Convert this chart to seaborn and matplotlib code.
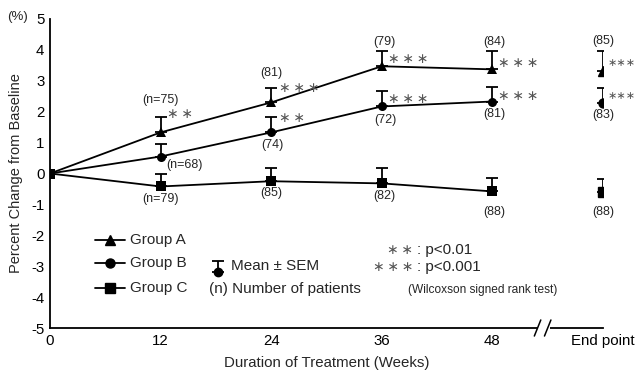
import numpy as np
import pandas as pd
import matplotlib
matplotlib.use("Agg")
import matplotlib.pyplot as plt
import matplotlib.transforms as mtransforms
import seaborn as sns

# ---------------- data ----------------
weeks = [0, 12, 24, 36, 48]
end_pos = 60
x_ticks = [0, 12, 24, 36, 48, 60]
x_ticklabels = ["0", "12", "24", "36", "48", "End point"]
y_ticks = [-5, -4, -3, -2, -1, 0, 1, 2, 3, 4, 5]
groups = ["Group A", "Group B", "Group C"]

a_mean = [0, 1.33, 2.30, 3.47, 3.37]
a_sem = [0, 0.50, 0.48, 0.50, 0.60]
a_end_mean, a_end_sem = 3.32, 0.63
b_mean = [0, 0.55, 1.33, 2.17, 2.33]
b_sem = [0, 0.42, 0.50, 0.50, 0.47]
b_end_mean, b_end_sem = 2.28, 0.50
c_mean = [0, -0.42, -0.25, -0.32, -0.58]
c_sem = [0, 0.40, 0.44, 0.50, 0.42]
c_end_mean, c_end_sem = -0.60, 0.42

a_n = ["(n=75)", "(81)", "(79)", "(84)", "(85)"]
b_n = ["(n=68)", "(74)", "(72)", "(81)", "(83)"]
c_n = ["(n=79)", "(85)", "(82)", "(88)", "(88)"]
a_sig = ["**", "***", "***", "***", "***"]
b_sig = ["", "**", "***", "***", "***"]

# ---------------- style ----------------
sns.set_theme(style="white")
plt.rcParams["font.family"] = ["Liberation Sans", "DejaVu Sans"]
plt.rcParams["axes.unicode_minus"] = False

fig = plt.figure(figsize=(6.35, 3.73), dpi=100)
ax = fig.add_axes([50 / 635, 1 - 328 / 373, 553 / 635, 309 / 373])

markers = {"Group A": "^", "Group B": "o", "Group C": "s"}
df = pd.DataFrame({
    "week": weeks * 3,
    "value": a_mean + b_mean + c_mean,
    "group": sum([[g] * len(weeks) for g in groups], []),
})
sns.lineplot(data=df, x="week", y="value", hue="group", style="group",
             markers=markers, dashes=False, palette=["black"] * 3,
             markersize=6.5, linewidth=1.3, markeredgewidth=0, legend=False, ax=ax)

series = [
    (a_mean, a_sem, a_end_mean, a_end_sem, "^"),
    (b_mean, b_sem, b_end_mean, b_end_sem, "o"),
    (c_mean, c_sem, c_end_mean, c_end_sem, "s"),
]
for mean, sem, emean, esem, mk in series:
    xs = weeks[1:] + [end_pos]
    ys = mean[1:] + [emean]
    es = sem[1:] + [esem]
    ax.errorbar(xs, ys, yerr=[np.zeros(len(es)), es], fmt="none",
                ecolor="black", elinewidth=1.3, capsize=4, capthick=1.3, zorder=3)
    ax.plot([end_pos], [emean], marker=mk, color="black", markersize=6.5,
            linestyle="none", zorder=4)

# ---------------- annotations ----------------
nfs = 9
a_n_y = [2.38, 3.25, 4.26, 4.26, 4.29]
b_n_pos = [(14.6, 0.28), (24.1, 0.92), (36.35, 1.73), (48.2, 1.93), (60, 1.89)]
c_n_y = [-0.83, -0.63, -0.73, -1.25, -1.25]
label_x = [12, 24, 36.3, 48.2, 60]
for i, lab in enumerate(a_n):
    ax.text(label_x[i], a_n_y[i], lab, ha="center", va="center", fontsize=nfs)
for i, lab in enumerate(b_n):
    ax.text(b_n_pos[i][0], b_n_pos[i][1], lab, ha="center", va="center", fontsize=nfs)
for i, lab in enumerate(c_n):
    ax.text(label_x[i], c_n_y[i], lab, ha="center", va="center", fontsize=nfs)

sig_x = [12.7, 24.85, 36.7, 48.6, 60.5]
a_sig_y = [1.93, 2.78, 3.72, 3.56, 3.56]
b_sig_y = [0, 1.81, 2.40, 2.52, 2.50]
star_col = "#555555"


def stars(s, sep="\u2009"):
    return sep.join("\u2217" * len(s))


for sig, sig_y in [(a_sig, a_sig_y), (b_sig, b_sig_y)]:
    for i, s in enumerate(sig):
        if not s:
            continue
        if i < 4:
            ax.text(sig_x[i], sig_y[i], stars(s), ha="left", va="center",
                    fontsize=10, color=star_col, clip_on=False)
        else:
            ax.text(sig_x[i], sig_y[i], stars(s, ""), ha="left", va="center",
                    fontsize=8, color=star_col, clip_on=False)

# legend (drawn manually)
leg_y = [-2.15, -2.9, -3.7]
for g, ly in zip(groups, leg_y):
    ax.plot([4.9, 8.1], [ly, ly], color="black", linewidth=1.3, clip_on=False)
    ax.plot([6.5], [ly], marker=markers[g], color="black", markersize=6.5,
            linestyle="none")
    ax.text(8.7, ly, g, ha="left", va="center", fontsize=11)

ax.errorbar([18.2], [-3.2], yerr=[[0], [0.38]], fmt="o", color="black",
            markersize=6, elinewidth=1.3, capsize=4, capthick=1.3)
ax.text(19.6, -3.0, "Mean \u00b1 SEM", ha="left", va="center", fontsize=11)
ax.text(17.3, -3.74, "(n) Number of patients", ha="left", va="center", fontsize=11)

ax.text(39.4, -2.48, stars("**"), ha="right", va="center", fontsize=10, color=star_col)
ax.text(39.8, -2.48, ": p<0.01", ha="left", va="center", fontsize=11)
ax.text(39.4, -3.03, stars("***"), ha="right", va="center", fontsize=10, color=star_col)
ax.text(39.8, -3.03, ": p<0.001", ha="left", va="center", fontsize=11)
ax.text(38.8, -3.77, "(Wilcoxson signed rank test)", ha="left", va="center", fontsize=8.6)

# ---------------- axes ----------------
ax.set_xlim(0, 60)
ax.set_ylim(-5, 5)
ax.set_xticks(x_ticks)
ax.set_xticklabels(x_ticklabels, fontsize=10.8)
ax.set_yticks(y_ticks)
ax.set_yticklabels([str(v) for v in y_ticks], fontsize=10.8)
ax.tick_params(axis="x", direction="in", length=5, width=1.2, colors="black", pad=4)
ax.tick_params(axis="y", direction="in", length=5, width=1.2, colors="black", pad=4)
for side in ["top", "right"]:
    ax.spines[side].set_visible(False)
for side in ["left", "bottom"]:
    ax.spines[side].set_color("black")
    ax.spines[side].set_linewidth(1.3)
ax.set_xlabel("Duration of Treatment (Weeks)", fontsize=10.8, labelpad=6)
ax.set_ylabel("Percent Change from Baseline", fontsize=10.5, labelpad=6)
fig.text(18 / 635, 1 - 17 / 373, "(%)", ha="center", va="center", fontsize=9.5)

# axis break marks
trans = mtransforms.blended_transform_factory(ax.transData, ax.transAxes)
ax.add_patch(plt.Rectangle((52.9, -0.01), 1.4, 0.02, transform=trans,
                           facecolor="white", edgecolor="none", clip_on=False, zorder=5))
for bx in [52.9, 54.0]:
    ax.plot([bx - 0.35, bx + 0.35], [-0.026, 0.026], color="black", linewidth=1.1,
            transform=trans, clip_on=False, zorder=6)

fig.savefig("out.png", dpi=100, facecolor="white")
